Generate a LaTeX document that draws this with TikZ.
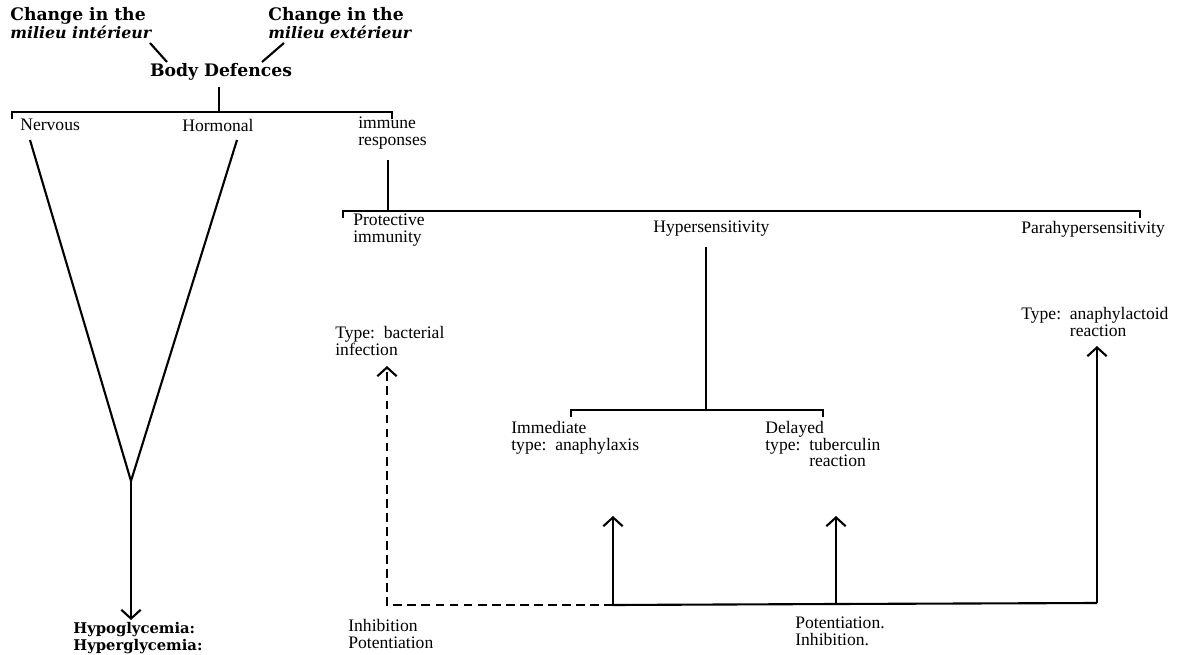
\documentclass[tikz,border=0pt]{standalone}
\usepackage{fontspec}
\setmainfont{Liberation Serif}
\newfontfamily\slabfont{DejaVu Serif}
\usetikzlibrary{arrows.meta}

\tikzset{
  txt/.style={inner sep=0pt, align=left, font=\fontsize{10}{9.5}\selectfont},
  heading/.style={inner sep=0pt, align=left, font=\slabfont\bfseries\fontsize{9.8}{8.7}\selectfont},
  link/.style={line width=1.2pt},
  uparrow/.style={line width=1.2pt, -{Straight Barb[length=5pt,width=11pt]}},
}
\newcommand{\milieu}[1]{{\itshape\fontsize{9}{8.7}\selectfont #1}}

\begin{document}
\begin{tikzpicture}[x=0.02cm, y=-0.02cm]
\useasboundingbox (0,0) rectangle (1177,655);

% top of the scheme
\node[heading] (intchange) at (10,23) [right] {Change in the\\\milieu{milieu intérieur}};
\node[heading] (extchange) at (268,23) [right] {Change in the\\\milieu{milieu extérieur}};
\node[heading] (defences) at (221,72) {Body Defences};

\coordinate (intA) at (150,43); \coordinate (intB) at (167,62);
\coordinate (extA) at (284,43); \coordinate (extB) at (262,62);
\draw[link] (intA) -- (intB);
\draw[link] (extA) -- (extB);

\coordinate (defA) at (219,87); \coordinate (defB) at (219,112);
\draw[link] (defA) -- (defB);
\draw[link] (12,119) -- (12,112) -- (392,112) -- (392,119);

\node[txt] (nervous) at (20,125) [right] {Nervous};
\node[txt] (hormonal) at (182,125) [right] {Hormonal};
\node[txt] (immune) at (358,133) [right] {immune\\responses};

% nervous and hormonal routes
\coordinate (nerv) at (30,140);
\coordinate (horm) at (237,140);
\coordinate (apex) at (131,481);
\coordinate (glyc) at (131,620);
\draw[link] (nerv) -- (apex) -- (horm);
\draw[uparrow] (apex) -- (glyc);
\node[heading, font=\slabfont\bfseries\fontsize{8.4}{8}\selectfont] (glycemia) at (73,638) [right] {Hypoglycemia:\\Hyperglycemia:};

% immune responses
\coordinate (immA) at (388,160); \coordinate (immB) at (388,211);
\draw[link] (immA) -- (immB);
\draw[link] (343,218) -- (343,211) -- (1140,211) -- (1140,218);

\node[txt] (protective) at (353,230) [right] {Protective\\immunity};
\node[txt] (hyper) at (653,229) [right] {Hypersensitivity};
\node[txt] (parahyper) at (1021,229) [right] {Parahypersensitivity};

\node[txt] (bacterial) at (335,341) [right] {Type:~~bacterial\\infection};
\node[txt] (anaphylactoid) at (1021,324) [right] {Type:~~anaphylactoid\\\phantom{Type:~~}reaction};

\coordinate (hypA) at (706,247); \coordinate (hypB) at (706,410);
\draw[link] (hypA) -- (hypB);
\draw[link] (571,417) -- (571,410) -- (823,410) -- (823,417);

\node[txt] (immediate) at (511,438) [right] {Immediate\\type:~~anaphylaxis};
\node[txt] (delayed) at (765,446) [right] {Delayed\\type:~~tuberculin\\\phantom{type:~~}reaction};

% potentiation and inhibition
\coordinate (base) at (613,605);
\coordinate (baseB) at (836,604);
\coordinate (baseC) at (1097,603);
\coordinate (dashcorner) at (387,605);
\draw[link] (base) -- (baseB) -- (baseC);
\draw[uparrow] (base) -- (613,516);
\draw[uparrow] (baseB) -- (836,516);
\draw[uparrow] (baseC) -- (1097,346);
\draw[uparrow, dash pattern=on 5pt off 3pt] (base) -- (dashcorner) -- (387,366);

\node[txt] (inhpot) at (348,634) [right] {Inhibition\\Potentiation};
\node[txt] (potinh) at (795,631) [right] {Potentiation.\\Inhibition.};
\end{tikzpicture}
\end{document}
